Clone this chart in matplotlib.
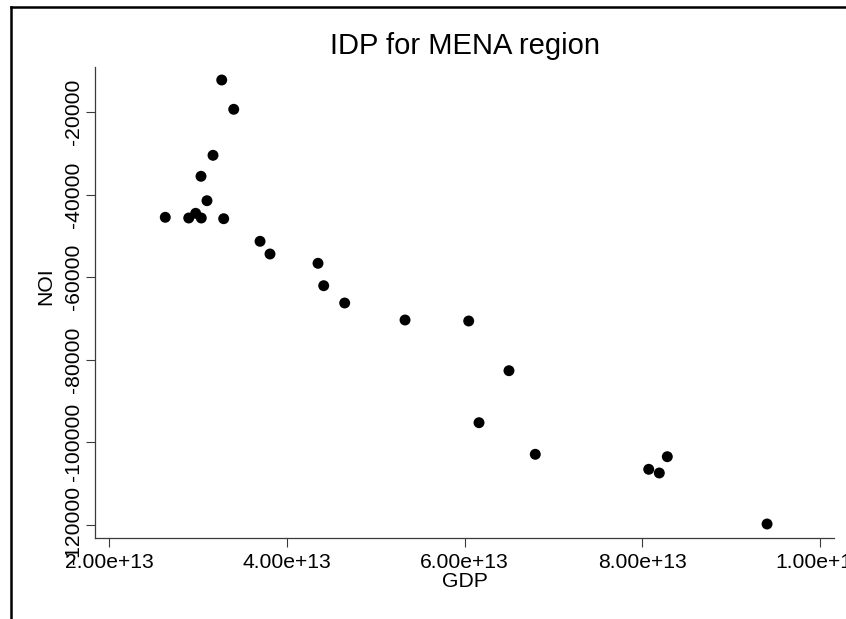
import matplotlib
matplotlib.use("Agg")
import matplotlib.pyplot as plt
from matplotlib.lines import Line2D
from matplotlib.ticker import FixedLocator, FixedFormatter

plt.rcParams['font.family'] = ['Liberation Sans', 'DejaVu Sans']

gdp = [3.268e13, 3.403e13, 3.170e13, 3.035e13, 3.102e13, 2.633e13, 2.897e13, 2.975e13,
       3.038e13, 3.290e13, 3.699e13, 3.811e13, 4.351e13, 4.415e13, 4.651e13, 5.330e13,
       6.046e13, 6.499e13, 6.162e13, 6.795e13, 8.280e13, 8.071e13, 8.190e13, 9.402e13]
noi = [-12167, -19272, -30428, -35520, -41437, -45463, -45632, -44493,
       -45632, -45802, -51283, -54363, -56618, -62050, -66245, -70367,
       -70610, -82662, -95272, -102935, -103517, -106573, -107470, -119837]

xticks = [2e13, 4e13, 6e13, 8e13, 1e14]
xticklabels = ["2.00e+13", "4.00e+13", "6.00e+13", "8.00e+13", "1.00e+14"]
yticks = [-120000, -100000, -80000, -60000, -40000, -20000]
yticklabels = ["-120000", "-100000", "-80000", "-60000", "-40000", "-20000"]

W, H = 846, 619
fig = plt.figure(figsize=(W / 100, H / 100), dpi=100)
fig.patch.set_facecolor('white')

l, r, b, t = 95 / W, 834 / W, 1 - 537.7 / H, 1 - 66.7 / H
ax = fig.add_axes([l, b, r - l, t - b])
ax.set_facecolor('white')

ax.scatter(gdp, noi, s=62, color='black', edgecolors='none', zorder=3)

ax.set_xlim(1.8425e13, 1.0155e14)
ax.set_ylim(-123160, -8942)

ax.xaxis.set_major_locator(FixedLocator(xticks))
ax.xaxis.set_major_formatter(FixedFormatter(xticklabels))
ax.yaxis.set_major_locator(FixedLocator(yticks))
ax.yaxis.set_major_formatter(FixedFormatter(yticklabels))

for s in ['top', 'right']:
    ax.spines[s].set_visible(False)
for s in ['left', 'bottom']:
    ax.spines[s].set_color('#3a3a3a')
    ax.spines[s].set_linewidth(0.9)

ax.tick_params(axis='both', direction='out', length=6.2, width=0.8, color='#3a3a3a',
               labelsize=15.2, labelcolor='black')
ax.tick_params(axis='x', pad=4.8)
ax.tick_params(axis='y', pad=2.5)
for lab in ax.get_yticklabels():
    lab.set_rotation(90)
    lab.set_va('center')
    lab.set_ha('right')

ax.set_xlabel("GDP", fontsize=15.2, labelpad=0)
ax.set_ylabel("NOI", fontsize=15.2)
ax.yaxis.set_label_coords((46 - 95) / (834 - 95), (537.7 - 286) / (537.7 - 66.7))
ax.yaxis.label.set_va('center')

fig.text(465 / W, 1 - 54 / H, "IDP for MENA region", fontsize=21, ha='center', va='baseline')

# outer frame (partially visible)
fig.add_artist(Line2D([10.5 / W, 10.5 / W], [0, 1 - 6.5 / H], transform=fig.transFigure,
                      color='black', linewidth=1.8, solid_capstyle='projecting'))
fig.add_artist(Line2D([10.5 / W, 1.0], [1 - 6.5 / H, 1 - 6.5 / H], transform=fig.transFigure,
                      color='black', linewidth=1.8, solid_capstyle='projecting'))

fig.savefig("out.png", dpi=100, facecolor='white')
